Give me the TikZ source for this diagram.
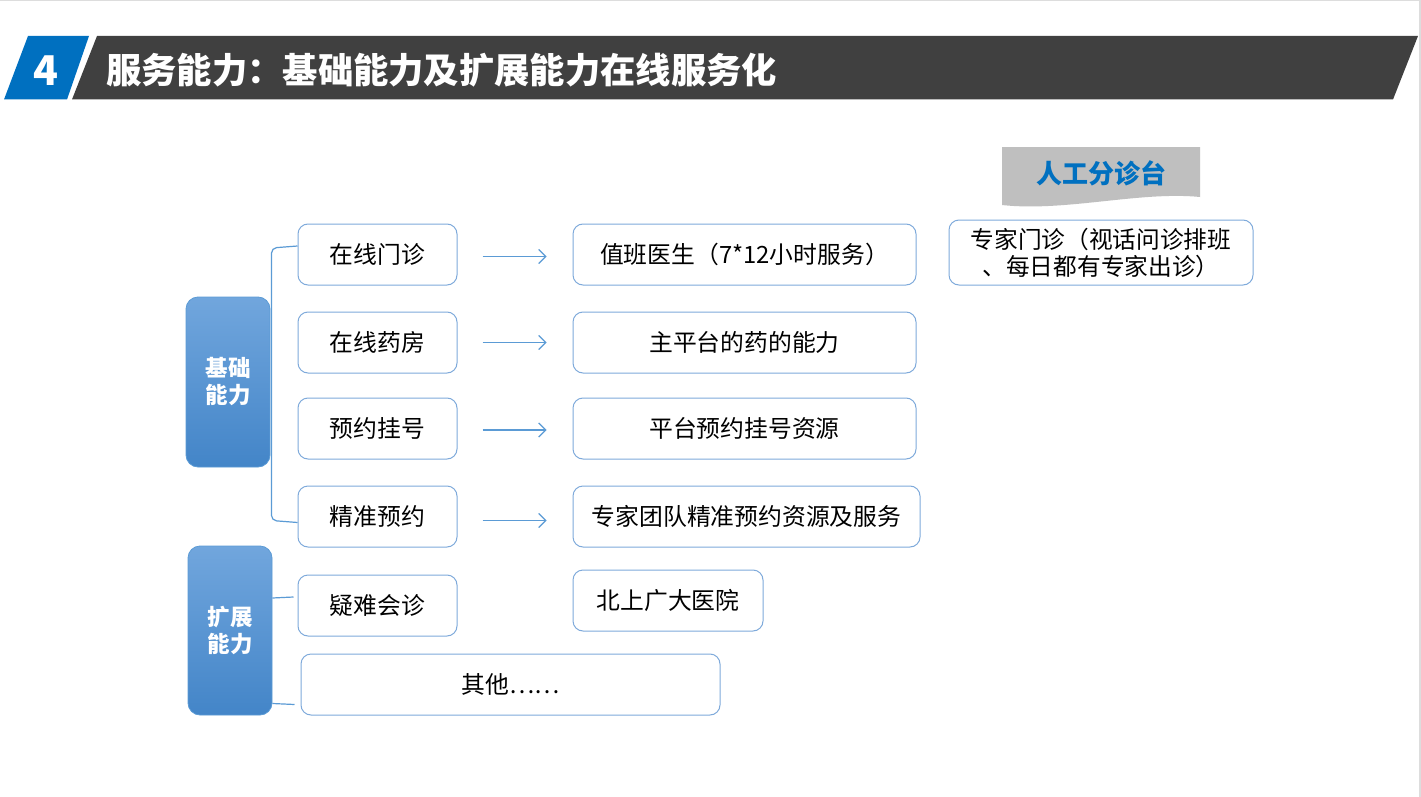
\documentclass[tikz,border=0pt]{standalone}
\usepackage{fontspec}
\setmainfont{Noto Sans CJK SC}
\usetikzlibrary{arrows.meta}
\definecolor{hdrgray}{HTML}{404040}
\definecolor{hdrblue}{HTML}{0070C0}
\definecolor{boxline}{HTML}{7FAADB}
\definecolor{arrblue}{HTML}{5B9BD5}
\definecolor{gradtop}{HTML}{71A6DD}
\definecolor{gradbot}{HTML}{4385C8}
\definecolor{tabgray}{HTML}{BFBFBF}
\definecolor{edgegray}{HTML}{DDDDDD}
\tikzset{
  wbox/.style={draw=boxline, line width=1pt, rounded corners=10pt, fill=white,
    minimum height=61pt, inner sep=0pt, font=\fontsize{23.8}{28}\selectfont, text=black},
  bluebox/.style={draw=arrblue, line width=0.8pt, rounded corners=12pt,
    top color=gradtop, bottom color=gradbot, minimum width=84pt, inner sep=0pt,
    font=\bfseries\fontsize{22.5}{27}\selectfont, text=white, align=center},
  arr/.style={draw=arrblue, line width=1.2pt, -{Straight Barb[length=7pt,width=14pt,line width=1.2pt]},
    shorten <=25pt, shorten >=26pt},
  conn/.style={draw=arrblue, line width=1.2pt}
}
\begin{document}
\begin{tikzpicture}[x=1pt,y=-1pt]
\useasboundingbox (0,0) rectangle (1421,797);
\fill[white] (0,0) rectangle (1421,797);
% slide edges
\fill[edgegray] (0,0) rectangle (1421,1.5);
\fill[edgegray] (1418.5,0) rectangle (1421,797);
% header
\fill[hdrgray] (97,36) -- (1418,36) -- (1393,99.5) -- (72,99.5) -- cycle;
\fill[hdrblue] (28,36) -- (89,36) -- (67,99.5) -- (4,99.5) -- cycle;
\node[text=white, font=\bfseries\fontsize{41}{44}\selectfont, inner sep=0pt] (num) at (46,71) {4};
\node[anchor=west, text=white, font=\bfseries\fontsize{35.3}{40}\selectfont, inner sep=0pt] (title) at (106,70) {服务能力：基础能力及扩展能力在线服务化};
% category boxes
\node[bluebox, minimum height=170pt] (k1) at (228,382) {基础\\能力};
\node[bluebox, minimum height=169pt] (k2) at (230,630.5) {扩展\\能力};
% left column
\node[wbox, minimum width=159pt] (a1) at (377.5,254.5) {在线门诊};
\node[wbox, minimum width=159pt] (a2) at (377.5,342.5) {在线药房};
\node[wbox, minimum width=159pt] (a3) at (377.5,428.5) {预约挂号};
\node[wbox, minimum width=159pt] (a4) at (377.5,516.5) {精准预约};
\node[wbox, minimum width=159pt] (a5) at (377.5,605.5) {疑难会诊};
\node[wbox, minimum width=419pt] (a6) at (510.5,684.5) {其他……};
% right column
\node[wbox, minimum width=343pt] (b1) at (744.5,254.5) {值班医生（7*12小时服务）};
\node[wbox, minimum width=343pt] (b2) at (744.5,342.5) {主平台的药的能力};
\node[wbox, minimum width=343pt] (b3) at (744.5,428.5) {平台预约挂号资源};
\node[wbox, minimum width=347pt] (b4) at (746.5,516.5) {专家团队精准预约资源及服务};
\node[wbox, minimum width=190pt] (b5) at (668,600.5) {北上广大医院};
\node[wbox, minimum width=304pt, minimum height=65pt, align=center,
  font=\fontsize{23.7}{27}\selectfont] (c1) at (1101,252.5) {专家门诊（视话问诊排班\\、每日都有专家出诊）};
% tab
\fill[tabgray] (1002,147) -- (1200,147) -- (1200,197)
  .. controls (1140,191) and (1065,212) .. (1002,205) -- cycle;
\node[text=hdrblue, font=\bfseries\fontsize{26}{30}\selectfont, inner sep=0pt] (tab) at (1101,173) {人工分诊台};
% arrows
\draw[arr] ([yshift=-2pt]a1.east) -- ([yshift=-2pt]b1.west);
\draw[arr] (a2.east) -- (b2.west);
\draw[arr] ([yshift=-1.5pt]a3.east) -- ([yshift=-1.5pt]b3.west);
\draw[arr] ([yshift=-4pt]a4.east) -- ([yshift=-4pt]b4.west);
% bracket for basic capabilities
\draw[conn, rounded corners=5pt] ([yshift=8.5pt]a1.west) -- ++(-26,2) -- ([xshift=-26pt,yshift=-4pt]a4.west) -- ([yshift=-6pt]a4.west);
% extended capabilities connectors
\draw[conn] ([yshift=32.5pt]k2.east) -- ([xshift=-4pt,yshift=8.5pt]a5.west);
\draw[conn] ([yshift=-73pt]k2.east) -- ([xshift=-6pt,yshift=-20pt]a6.west);
\end{tikzpicture}
\end{document}
